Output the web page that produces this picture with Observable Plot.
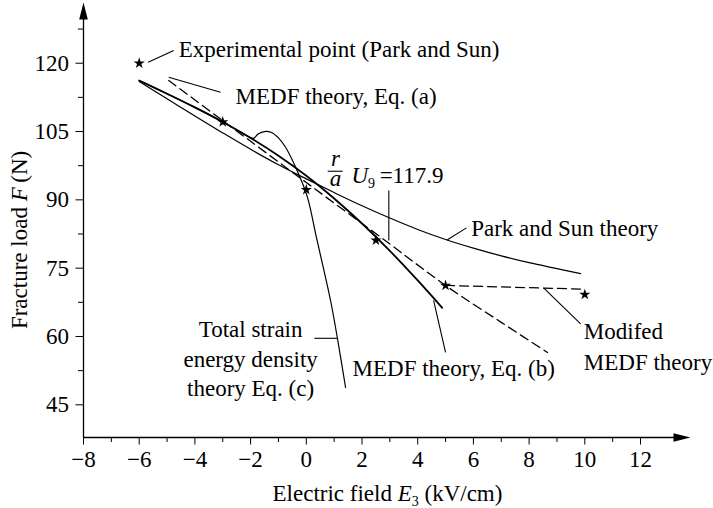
<!DOCTYPE html>
<html><head><meta charset="utf-8">
<script src="https://cdn.jsdelivr.net/npm/d3@7"></script>
<script src="https://cdn.jsdelivr.net/npm/@observablehq/plot@0.6"></script>
<style>body{margin:0;background:#fff;} #chart svg{display:block;}</style>
</head><body><div id="chart"></div>
<script>
// ---- data ----
const expE = [-6, -3, 0, 2.5, 5, 10];
const expF = [120, 107.1, 92.2, 81.1, 71.2, 69.2];

const parkE = [-6, -5, -4, -3, -2, -1, 0, 1, 2, 3, 4, 5, 6, 7, 8, 9, 9.85];
const parkF = [116.0, 112.2, 108.4, 104.7, 101.1, 97.7, 94.6, 91.6, 88.7, 86.0, 83.5, 81.3, 79.4, 77.7, 76.2, 74.9, 73.8];

const medfaE = [-4.94, -3, 0, 3, 5, 7, 8.66];
const medfaF = [116.2, 107.4, 93.8, 80.3, 71.2, 63.1, 56.5];

const medfbE = [-6, -5, -4, -3, -2, -1, 0, 1, 2, 3, 4, 4.88];
const medfbF = [116.2, 113.3, 110.3, 107.1, 103.6, 99.7, 95.3, 90.3, 84.8, 78.8, 72.3, 66.3];

const tsedE = [-6, -5, -4, -3, -2.2, -1.9, -1.72, -1.5, -1.25, -1.0, -0.75, -0.5, -0.25, 0.04, 0.38, 0.87, 1.12, 1.41];
const tsedF = [116.2, 113.3, 110.3, 107.1, 104.3, 103.5, 104.5, 105.0, 104.8, 103.6, 101.6, 98.7, 95.3, 90.6, 81.3, 67.9, 59.5, 48.8];

const modE = [5, 9.9];
const modF = [71.2, 70.4];

const xTicks = [-8, -6, -4, -2, 0, 2, 4, 6, 8, 10, 12];
const xMinor = [-7, -5, -3, -1, 1, 3, 5, 7, 9, 11];
const yTicks = [45, 60, 75, 90, 105, 120];
const yMinor = [52.5, 67.5, 82.5, 97.5, 112.5, 127.5];
const xDomain = [-8, 13.795];
const yDomain = [37.82, 133.33];

const xTitle = "Electric field E3 (kV/cm)";
const yTitle = "Fracture load F(N)";

// annotation labels (left-aligned)
const labelText = ["Experimental point (Park and Sun)", "MEDF theory, Eq. (a)", "Park and Sun theory",
  "Modifed", "MEDF theory", "MEDF theory, Eq. (b)"];
const labelE = [-4.578, -2.54, 5.92, 9.965, 9.965, 1.66];
const labelF = [122.94, 112.7, 83.78, 61.07, 54.35, 53.03];
// centred block
const tsedText = ["Total strain", "energy density", "theory Eq. (c)"];
const tsedLabelE = [-2.0, -2.0, -2.0];
const tsedLabelF = [61.45, 55.0, 48.53];

// leader lines
const leadE1 = [-5.68, -4.94, 5.055, 8.52, 4.57, 0.29, 2.963];
const leadF1 = [120.2, 116.9, 81.2, 70.67, 67.95, 59.6, 92.04];
const leadE2 = [-4.76, -3.08, 5.75, 9.85, 5.0, 1.13, 2.963];
const leadF2 = [122.8, 113.63, 83.85, 62.77, 56.5, 59.6, 81.06];

// r/a U9 = 117.9 annotation
const fracText = ["r", "a"];
const fracE = 1.05, fracF = 96.55;
const barE = [0.786, 1.325];
const barF = 96.28;
const uText = "U9=117.9";
const uE = 1.62, uF = 95.42;

const zip = (xs, ys) => xs.map((x, i) => ({x, y: ys[i]}));
const idx = a => a.map((_, i) => i);

const arrowRight = {draw(c) { c.moveTo(0, 0); c.lineTo(-17, -4.3); c.lineTo(-17, 4.3); c.closePath(); }};
const arrowUp = {draw(c) { c.moveTo(0, 0); c.lineTo(-4.3, 17); c.lineTo(4.3, 17); c.closePath(); }};

const FS = 23;
const font = "'Liberation Serif', 'Times New Roman', serif";

const chart = Plot.plot({
  width: 713, height: 508,
  marginLeft: 83, marginRight: 23, marginTop: 2, marginBottom: 71,
  x: {domain: xDomain},
  y: {domain: yDomain},
  style: {fontFamily: font, fontSize: FS + "px", color: "#000", background: "#fff", overflow: "visible"},
  marks: [
    Plot.axisX({ticks: xTicks, tickSize: 7.5, tickPadding: 6, fontSize: FS, label: null}),
    Plot.axisX({ticks: xMinor, tickSize: 5, tickFormat: () => "", label: null}),
    Plot.axisY({ticks: yTicks, tickSize: 7.5, tickPadding: 7, fontSize: FS, label: null}),
    Plot.axisY({ticks: yMinor, tickSize: 5, tickFormat: () => "", label: null}),
    Plot.ruleY([yDomain[0]], {x1: xDomain[0], x2: xDomain[1] - 0.3, stroke: "#000", strokeWidth: 1.3}),
    Plot.ruleX([xDomain[0]], {y1: yDomain[0], y2: yDomain[1] - 1, stroke: "#000", strokeWidth: 1.3}),
    Plot.dot([{x: xDomain[1], y: yDomain[0]}], {x: "x", y: "y", symbol: arrowRight, fill: "#000", stroke: "none"}),
    Plot.dot([{x: xDomain[0], y: yDomain[1]}], {x: "x", y: "y", symbol: arrowUp, fill: "#000", stroke: "none"}),

    Plot.line(zip(parkE, parkF), {x: "x", y: "y", curve: "catmull-rom", stroke: "#000", strokeWidth: 1.2}),
    Plot.line(zip(tsedE, tsedF), {x: "x", y: "y", curve: "catmull-rom", stroke: "#000", strokeWidth: 1.2}),
    Plot.line(zip(medfbE, medfbF), {x: "x", y: "y", curve: "catmull-rom", stroke: "#000", strokeWidth: 1.8}),
    Plot.line(zip(medfaE, medfaF), {x: "x", y: "y", curve: "catmull-rom", stroke: "#000", strokeWidth: 1.3, strokeDasharray: "9,5"}),
    Plot.line(zip(modE, modF), {x: "x", y: "y", stroke: "#000", strokeWidth: 1.3, strokeDasharray: "9,5"}),

    Plot.link(idx(leadE1), {x1: i => leadE1[i], y1: i => leadF1[i], x2: i => leadE2[i], y2: i => leadF2[i], stroke: "#000", strokeWidth: 1.1}),
    Plot.ruleY([barF], {x1: barE[0], x2: barE[1], stroke: "#000", strokeWidth: 1.1}),

    Plot.dot(zip(expE, expF), {x: "x", y: "y", symbol: "star", r: 3.5, fill: "#000", stroke: "none"}),

    Plot.text(idx(labelText), {x: i => labelE[i], y: i => labelF[i], text: i => labelText[i], textAnchor: "start", fontSize: FS, fill: "#000"}),
    Plot.text(idx(tsedText), {x: i => tsedLabelE[i], y: i => tsedLabelF[i], text: i => tsedText[i], textAnchor: "middle", fontSize: FS, fill: "#000"}),
    Plot.text([fracText.join("\n")], {x: fracE, y: fracF, text: d => d, lineHeight: 0.85, fontStyle: "italic", fontSize: FS, fill: "#000"}),
    Plot.text([uText], {x: uE, y: uF, text: d => d, textAnchor: "start", fontSize: FS, fill: "#000"}),
    Plot.text([xTitle], {x: 2.915, y: 25.58, text: d => d, fontSize: FS, fill: "#000"}),
    Plot.text([yTitle], {x: -10.29, y: 81.2, text: d => d, rotate: -90, fontSize: FS, fill: "#000"})
  ]
});

// rich text: italics and subscripts
const rich = {
  [xTitle]: [["Electric field "], ["E", "i"], ["3", "sub"], [" (kV/cm)"]],
  [yTitle]: [["Fracture load "], ["F", "i"], ["\u2009(N)"]],
  [uText]: [["U", "i"], ["9", "sub"], ["\u2009=117.9"]]
};
const ns = "http://www.w3.org/2000/svg";
chart.querySelectorAll("text").forEach(t => {
  const segs = rich[t.textContent];
  if (!segs) return;
  t.textContent = "";
  let shifted = false;
  segs.forEach(([s, kind]) => {
    const ts = document.createElementNS(ns, "tspan");
    ts.textContent = s;
    if (kind === "i") ts.setAttribute("font-style", "italic");
    if (kind === "sub") { ts.setAttribute("font-size", "14"); ts.setAttribute("dy", "5"); shifted = true; }
    else if (shifted) { ts.setAttribute("dy", "-5"); shifted = false; }
    t.appendChild(ts);
  });
});

document.getElementById("chart").appendChild(chart);
</script>
</body></html>
